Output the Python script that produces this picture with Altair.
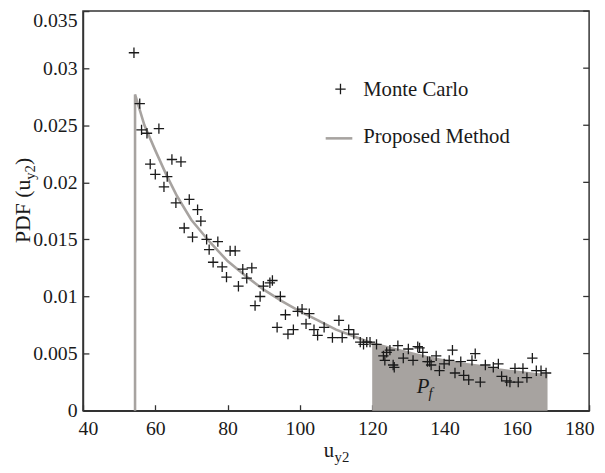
import altair as alt
import pandas as pd

# Monte Carlo samples
mc_x = [54.1, 55.7, 56.2, 57.7, 61.0, 58.6, 60.0, 64.6, 67.1, 63.3, 62.4, 65.7, 69.4, 71.7,
        72.6, 68.0, 70.3, 74.2, 77.3, 74.9, 80.7, 82.1, 76.0, 78.5, 84.2, 86.7, 79.7, 85.3,
        83.0, 89.9, 89.0, 87.6, 91.7, 92.4, 94.6, 96.0, 93.7, 96.7, 98.2, 99.4, 100.6, 102.6,
        101.7, 103.9, 104.9, 106.7, 110.8, 109.0, 111.7, 113.5, 114.9, 116.7, 117.6, 118.5,
        119.4, 121.2, 123.1, 124.0, 123.5, 124.9, 125.8, 127.1, 126.1, 128.6, 130.0, 131.3,
        132.6, 133.1, 134.0, 135.3, 135.9, 136.3, 137.7, 138.6, 139.9, 141.3, 142.2, 142.9,
        144.5, 145.3, 146.7, 147.6, 148.5, 149.9, 151.3, 153.5, 154.9, 155.8, 157.2, 158.1,
        159.5, 160.4, 161.7, 162.8, 164.3, 165.4, 166.7, 168.1]
mc_y = [0.03135, 0.0269, 0.0246, 0.0243, 0.0247, 0.0216, 0.0207, 0.0220, 0.0218, 0.0205,
        0.0196, 0.0182, 0.0185, 0.0176, 0.0166, 0.0160, 0.0152, 0.0150, 0.0148, 0.0141,
        0.0140, 0.0140, 0.0130, 0.0126, 0.0124, 0.0125, 0.0117, 0.0116, 0.0109, 0.0109,
        0.0100, 0.0092, 0.0112, 0.0114, 0.0100, 0.0084, 0.0073, 0.0067, 0.0071, 0.0087,
        0.0089, 0.0085, 0.0076, 0.0071, 0.0066, 0.0073, 0.0079, 0.0064, 0.0064, 0.0071,
        0.0067, 0.0060, 0.0058, 0.0060, 0.0060, 0.0058, 0.0048, 0.0051, 0.0044, 0.0053,
        0.0040, 0.0057, 0.0038, 0.0046, 0.0054, 0.0044, 0.0056, 0.0055, 0.0051, 0.0043,
        0.0043, 0.0040, 0.0048, 0.0035, 0.0041, 0.0044, 0.0053, 0.0033, 0.0043, 0.0031,
        0.0027, 0.0044, 0.0050, 0.0025, 0.0040, 0.0038, 0.0041, 0.0030, 0.0026, 0.0025,
        0.0037, 0.0025, 0.0037, 0.0029, 0.0046, 0.0035, 0.0035, 0.0033]

# Proposed method PDF curve
pm_x = [54.4, 54.4, 57, 60, 63, 66, 70, 75, 80, 85, 90, 95, 100, 105, 110, 115, 120,
        125, 130, 135, 140, 145, 150, 155, 160, 165, 168.5]
pm_y = [0.0, 0.0277, 0.0250, 0.0228, 0.0207, 0.0188, 0.0167, 0.0148, 0.0131, 0.0118,
        0.0106, 0.0096, 0.0087, 0.0079, 0.0071, 0.0065, 0.0059, 0.0055, 0.0051, 0.0047,
        0.0044, 0.0041, 0.0039, 0.0036, 0.0034, 0.0032, 0.0031]

failure_threshold = 120
x_ticks = [40, 60, 80, 100, 120, 140, 160, 180]
y_ticks = [0, 0.005, 0.01, 0.015, 0.02, 0.025, 0.03, 0.035]
legend_labels = ["Monte Carlo", "Proposed Method"]

mc = pd.DataFrame({"x": mc_x, "y": mc_y})
pm = pd.DataFrame({"x": pm_x, "y": pm_y, "i": list(range(len(pm_x)))})
pf = pm[pm["x"] >= failure_threshold]
yt = pd.DataFrame({"y": y_ticks})

FONT = "Liberation Serif"
GRAY = "#a7a3a0"
INK = "#1a1a1a"
W, H = 513, 405

xs = alt.Scale(domain=[40, 180], nice=False, zero=False)
ys = alt.Scale(domain=[0, 0.035], nice=False)

x_axis = alt.Axis(values=x_ticks, title=None, grid=False, tickSize=alt.ExprRef(expr="-6"),
                  labelPadding=14, format="d", labelFlush=True, labelFlushOffset=5)
y_axis = alt.Axis(values=y_ticks, title=None, grid=False, tickSize=alt.ExprRef(expr="-6"),
                  labelPadding=12, format="~g",
                  labelBaseline={"condition": {"test": "datum.value >= 0.035", "value": "top"},
                                 "value": "middle"})

area = alt.Chart(pf).mark_area(color=GRAY, opacity=1).encode(
    x=alt.X("x:Q", scale=xs, axis=x_axis),
    y=alt.Y("y:Q", scale=ys, axis=y_axis),
)
line = alt.Chart(pm).mark_line(color=GRAY, strokeWidth=2.6).encode(
    x=alt.X("x:Q", scale=xs),
    y=alt.Y("y:Q", scale=ys),
    order="i:Q",
)
pts = alt.Chart(mc).mark_point(
    shape="M-1,0L1,0M0,-1L0,1", size=110, filled=False, color=INK, strokeWidth=1.3, opacity=1
).encode(
    x=alt.X("x:Q", scale=xs),
    y=alt.Y("y:Q", scale=ys),
)
# inward ticks on the right frame edge
right_ticks = alt.Chart(yt).mark_rule(color="#333333", strokeWidth=1.3).encode(
    x=alt.value(W - 6), x2=alt.value(W),
    y=alt.Y("y:Q", scale=ys),
)

# P_f label inside the shaded area
pf_lab = pd.DataFrame({"x": [132.3], "y": [0.0021], "t": ["P"]})
pf_sub = pd.DataFrame({"x": [135.6], "y": [0.00155], "t": ["f"]})
pf_text = alt.Chart(pf_lab).mark_text(font=FONT, fontSize=21, fontStyle="italic", color=INK,
                                      align="left", baseline="middle").encode(
    x=alt.X("x:Q", scale=xs), y=alt.Y("y:Q", scale=ys), text="t:N")
pf_text2 = alt.Chart(pf_sub).mark_text(font=FONT, fontSize=15, fontStyle="italic", color=INK,
                                       align="left", baseline="middle").encode(
    x=alt.X("x:Q", scale=xs), y=alt.Y("y:Q", scale=ys), text="t:N")

one = pd.DataFrame({"a": [0]})

# legend
leg_mark = alt.Chart(one).mark_point(
    shape="M-1,0L1,0M0,-1L0,1", size=110, filled=False, color=INK, strokeWidth=1.3, opacity=1
).encode(x=alt.value(261), y=alt.value(79))
leg_line = alt.Chart(one).mark_rule(color=GRAY, strokeWidth=2.6).encode(
    x=alt.value(246), x2=alt.value(273), y=alt.value(129))
leg_t1 = alt.Chart(one).mark_text(font=FONT, fontSize=21, color=INK, align="left",
                                  baseline="middle").encode(
    x=alt.value(284), y=alt.value(80), text=alt.value(legend_labels[0]))
leg_t2 = alt.Chart(one).mark_text(font=FONT, fontSize=21, color=INK, align="left",
                                  baseline="middle").encode(
    x=alt.value(284), y=alt.value(128), text=alt.value(legend_labels[1]))

# axis titles with subscripts
xt1 = alt.Chart(one).mark_text(font=FONT, fontSize=21, color=INK, align="left",
                               baseline="alphabetic").encode(
    x=alt.value(244), y=alt.value(452), text=alt.value("u"))
xt2 = alt.Chart(one).mark_text(font=FONT, fontSize=15, color=INK, align="left",
                               baseline="alphabetic").encode(
    x=alt.value(255), y=alt.value(457), text=alt.value("y2"))
yt1 = alt.Chart(one).mark_text(font=FONT, fontSize=22, color=INK, align="left",
                               baseline="alphabetic", angle=270).encode(
    x=alt.value(-54), y=alt.value(235), text=alt.value("PDF (u"))
yt2 = alt.Chart(one).mark_text(font=FONT, fontSize=15, color=INK, align="left",
                               baseline="alphabetic", angle=270).encode(
    x=alt.value(-49), y=alt.value(171), text=alt.value("y2"))
yt3 = alt.Chart(one).mark_text(font=FONT, fontSize=22, color=INK, align="left",
                               baseline="alphabetic", angle=270).encode(
    x=alt.value(-54), y=alt.value(156), text=alt.value(")"))

chart = alt.layer(
    area, line, right_ticks, pts, pf_text, pf_text2,
    leg_mark, leg_line, leg_t1, leg_t2, xt1, xt2, yt1, yt2, yt3
).properties(
    width=W, height=H,
    autosize=alt.AutoSizeParams(type="none"),
    padding={"left": 76, "top": 0, "right": 8, "bottom": 56},
    background="white",
).configure_view(
    stroke="#333333", strokeWidth=1.5
).configure_axis(
    domainColor="#333333", domainWidth=1.5, tickColor="#333333", tickWidth=1.3,
    labelFont=FONT, labelFontSize=20, labelColor=INK,
)

chart.save("out.html", embed_options={"renderer": "svg", "actions": False})
